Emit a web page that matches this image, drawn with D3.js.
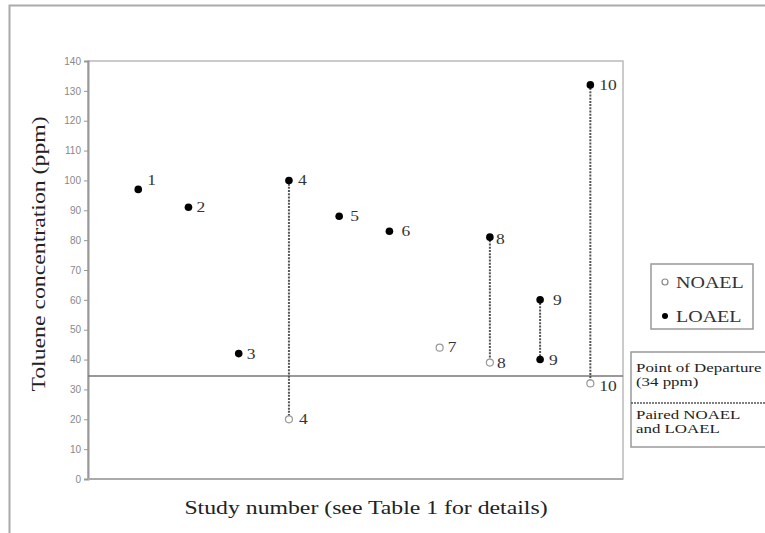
<!DOCTYPE html>
<html lang="en">
<head>
<meta charset="utf-8">
<title>toluene</title>
<script src="https://d3js.org/d3.v7.min.js"></script>
<style>
  body { margin: 0; background: #fff; }
  .tick text { font-family: "Liberation Sans", Arial, sans-serif; font-size: 10px; fill: #888; }
  .tick line, .domain { stroke: #999; }
  .serif { font-family: "Liberation Serif", "Times New Roman", serif; }
</style>
</head>
<body>
<div id="chart"></div>
<script>
// study data
var studies   = [1, 2, 3, 4, 5, 6, 7, 8, 9, 10];
var loael     = [97, 91, 42, 100, 88, 83, null, 81, 60, 132];
var noael     = [null, null, null, 20, null, null, 44, 39, null, 32];
var loael2    = [null, null, null, null, null, null, null, null, 40, null]; // study 9 second LOAEL
var yTicks    = [0, 10, 20, 30, 40, 50, 60, 70, 80, 90, 100, 110, 120, 130, 140];
var pod = 34.5;

var w = 765, h = 533;
// plot area (note: "top" is a reserved window prop, so use pTop)
var pLeft = 88, pRight = 623, pTop = 61, pBottom = 479;
var SX = 1.25; // the source text looks stretched sideways

var svg = d3.select("#chart").append("svg")
  .attr("width", w).attr("height", h);

function stxt(g, x, y, size, str, anchor, extra) {
  return g.append("text").attr("class", "serif")
    .attr("transform", "translate(" + x + "," + y + ")" + (extra || "") + " scale(" + SX + ",1)")
    .attr("font-size", size)
    .attr("text-anchor", anchor || "start")
    .attr("fill", "#222")
    .text(str);
}

// outer frame
svg.append("path")
  .attr("d", "M9.5," + h + "V5.5H" + w)
  .attr("fill", "none").attr("stroke", "#aaa").attr("stroke-width", 2);

var x = d3.scaleLinear().domain([0, 10.65]).range([pLeft, pRight]);
var y = d3.scaleLinear().domain([0, 140]).range([pBottom, pTop]);

// plot area border
svg.append("rect")
  .attr("x", pLeft).attr("y", pTop)
  .attr("width", pRight - pLeft).attr("height", pBottom - pTop)
  .attr("fill", "none").attr("stroke", "#bbb").attr("stroke-width", 1.5);

svg.append("g")
  .attr("transform", "translate(" + pLeft + ",0)")
  .call(d3.axisLeft(y).tickValues(yTicks).tickSize(4).tickPadding(3))
  .call(function(g) { g.select(".domain").attr("stroke-width", 2); });

svg.append("line")
  .attr("x1", pLeft).attr("x2", pRight)
  .attr("y1", pBottom).attr("y2", pBottom)
  .attr("stroke", "#aaa").attr("stroke-width", 2);

// point of departure
svg.append("line")
  .attr("x1", pLeft).attr("x2", pRight)
  .attr("y1", y(pod)).attr("y2", y(pod))
  .attr("stroke", "#777").attr("stroke-width", 1.3);

// paired lines
studies.forEach(function(s, i) {
  var lo = noael[i] != null ? noael[i] : loael2[i];
  if (loael[i] != null && lo != null) {
    svg.append("line")
      .attr("x1", x(s)).attr("x2", x(s))
      .attr("y1", y(loael[i])).attr("y2", y(lo))
      .attr("stroke", "#555").attr("stroke-width", 2)
      .attr("stroke-dasharray", "2,1.2");
  }
});

// open circles
studies.forEach(function(s, i) {
  if (noael[i] == null) return;
  svg.append("circle").attr("cx", x(s)).attr("cy", y(noael[i])).attr("r", 3.5)
    .attr("fill", "#fff").attr("stroke", "#999").attr("stroke-width", 1.2);
});
// filled circles
[loael, loael2].forEach(function(arr) {
  studies.forEach(function(s, i) {
    if (arr[i] == null) return;
    svg.append("circle").attr("cx", x(s)).attr("cy", y(arr[i])).attr("r", 3.8)
      .attr("fill", "#000");
  });
});

// point labels, offsets as [dx, dy] from the dot
var loaelOff  = [[9, -4], [8, 5], [8, 5], [9, 5], [11, 5], [12, 5], null, [6, 7], [13, 5], [9, 5]];
var loael2Off = [null, null, null, null, null, null, null, null, [9, 5], null];
var noaelOff  = [null, null, null, [10, 5], null, null, [8, 4], [7, 5], null, [9, 8]];

function labels(vals, off) {
  studies.forEach(function(s, i) {
    if (vals[i] == null) return;
    stxt(svg, x(s) + off[i][0], y(vals[i]) + off[i][1], 14, s).attr("fill", "#333");
  });
}
labels(loael, loaelOff);
labels(loael2, loael2Off);
labels(noael, noaelOff);

// axis titles
stxt(svg, 45, 254, 19, "Toluene concentration (ppm)", "middle", " rotate(-90)");
stxt(svg, 366, 514, 19, "Study number (see Table 1 for details)", "middle");

// legend 1
var lg = svg.append("g");
lg.append("rect").attr("x", 651).attr("y", 264).attr("width", 102).attr("height", 65)
  .attr("fill", "#fff").attr("stroke", "#999").attr("stroke-width", 1.5);
lg.append("circle").attr("cx", 665).attr("cy", 282).attr("r", 3)
  .attr("fill", "#fff").attr("stroke", "#888").attr("stroke-width", 1.2);
lg.append("circle").attr("cx", 665).attr("cy", 316).attr("r", 3).attr("fill", "#000");
stxt(lg, 676, 288, 16, "NOAEL").attr("fill", "#333");
stxt(lg, 676, 322, 16, "LOAEL").attr("fill", "#333");

// legend 2
var lg2 = svg.append("g");
lg2.append("rect").attr("x", 631).attr("y", 352).attr("width", 150).attr("height", 95)
  .attr("fill", "#fff").attr("stroke", "#999").attr("stroke-width", 1.5);
lg2.append("line").attr("x1", 631).attr("x2", w).attr("y1", 403).attr("y2", 403)
  .attr("stroke", "#555").attr("stroke-width", 1.5).attr("stroke-dasharray", "2,1");
[["Point of Departure", 372], ["(34 ppm)", 386], ["Paired NOAEL", 419], ["and LOAEL", 433]].forEach(function(t) {
  stxt(lg2, 636, t[1], 13.5, t[0]);
});
</script>
</body>
</html>
